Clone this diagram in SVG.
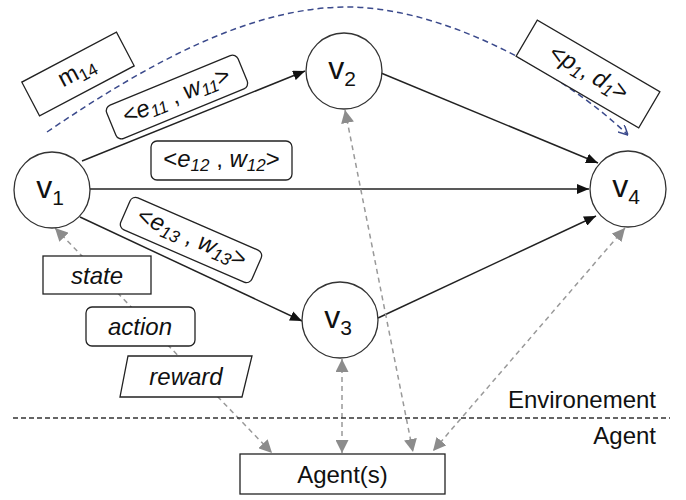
<svg xmlns="http://www.w3.org/2000/svg" width="686" height="500" viewBox="0 0 686 500">
<defs>
<style>
.node{fill:#fff;stroke:#333;stroke-width:1.3}
.box{fill:#fff;stroke:#222;stroke-width:1.3}
.edge{fill:none;stroke:#222;stroke-width:1.5}
.gray{fill:none;stroke:#999;stroke-width:1.5;stroke-dasharray:5,4}
.blue{fill:none;stroke:#3b4a8c;stroke-width:1.5;stroke-dasharray:6,4}
.sep{fill:none;stroke:#333;stroke-width:1.3;stroke-dasharray:5,3}
text{font-family:"Liberation Sans",Arial,sans-serif;fill:#111}
.vl{font-size:32px;text-anchor:middle}
.vs{font-size:21px}
.lb{font-size:24px;text-anchor:middle}
.it{font-style:italic}
.sub{font-size:17px}
</style>
<marker id="ab" viewBox="0 0 12 10" refX="12" refY="5" markerWidth="12" markerHeight="10" markerUnits="userSpaceOnUse" orient="auto"><path d="M0,0 L12,5 L0,10 Z" fill="#111"/></marker>
<marker id="ag" viewBox="0 0 12 12" refX="12" refY="6" markerWidth="13" markerHeight="13" markerUnits="userSpaceOnUse" orient="auto-start-reverse"><path d="M0,0 L12,6 L0,12 Z" fill="#8c8c8c"/></marker>
<marker id="abl" viewBox="0 0 10 10" refX="10" refY="5" markerWidth="10" markerHeight="10" markerUnits="userSpaceOnUse" orient="auto"><path d="M0,0 L10,5 L0,10" fill="none" stroke="#3b4a8c" stroke-width="1.5"/></marker>
</defs>
<g id="connectors">
<line class="edge" x1="82" y1="161" x2="305" y2="71" marker-end="url(#ab)"/>
<line class="edge" x1="90" y1="189" x2="589" y2="189" marker-end="url(#ab)"/>
<line class="edge" x1="80" y1="217" x2="302" y2="321" marker-end="url(#ab)"/>
<line class="edge" x1="381" y1="73" x2="598" y2="163" marker-end="url(#ab)"/>
<line class="edge" x1="378" y1="318" x2="596" y2="216" marker-end="url(#ab)"/>
<path class="blue" d="M47,132 C150,62 250,8 345,7 C440,6 560,70 628,135" marker-end="url(#abl)"/>
<line class="gray" x1="55" y1="228" x2="272" y2="453" marker-start="url(#ag)" marker-end="url(#ag)"/>
<line class="gray" x1="342" y1="359" x2="342" y2="453" marker-start="url(#ag)" marker-end="url(#ag)"/>
<line class="gray" x1="345" y1="110" x2="413" y2="452" marker-start="url(#ag)" marker-end="url(#ag)"/>
<line class="gray" x1="625" y1="228" x2="433" y2="451" marker-start="url(#ag)" marker-end="url(#ag)"/>
<line class="sep" x1="13" y1="418" x2="670" y2="418"/>
</g>
<g id="v1"><circle class="node" cx="52" cy="190" r="38"/><text class="vl" x="50" y="198">v<tspan class="vs" dy="7">1</tspan></text></g>
<g id="v2"><circle class="node" cx="344" cy="71" r="38"/><text class="vl" x="342" y="79">v<tspan class="vs" dy="7">2</tspan></text></g>
<g id="v3"><circle class="node" cx="340" cy="320" r="38"/><text class="vl" x="338" y="328">v<tspan class="vs" dy="7">3</tspan></text></g>
<g id="v4"><circle class="node" cx="628" cy="189" r="38"/><text class="vl" x="626" y="197">v<tspan class="vs" dy="7">4</tspan></text></g>
<g id="m14" transform="translate(78,74) rotate(-27.8)"><rect class="box" x="-53.5" y="-19" width="107" height="38"/><text class="lb" x="0" y="5">m<tspan class="sub" dy="4">14</tspan></text></g>
<g id="e11" transform="translate(177,97) rotate(-22.4)"><rect class="box" x="-71" y="-18" width="142" height="36" rx="6"/><text class="lb" x="0" y="6">&lt;<tspan class="it">e</tspan><tspan class="sub it" dy="4">11</tspan><tspan dy="-4"> , </tspan><tspan class="it">w</tspan><tspan class="sub it" dy="4">11</tspan><tspan dy="-4">&gt;</tspan></text></g>
<g id="e12"><rect class="box" x="151" y="141" width="141" height="39" rx="6"/><text class="lb" x="221.5" y="167">&lt;<tspan class="it">e</tspan><tspan class="sub it" dy="4">12</tspan><tspan dy="-4"> , </tspan><tspan class="it">w</tspan><tspan class="sub it" dy="4">12</tspan><tspan dy="-4">&gt;</tspan></text></g>
<g id="e13" transform="translate(191,240) rotate(23.5)"><rect class="box" x="-71.5" y="-17.5" width="143" height="35" rx="6"/><text class="lb" x="0" y="5">&lt;<tspan class="it">e</tspan><tspan class="sub it" dy="4">13</tspan><tspan dy="-4"> , </tspan><tspan class="it">w</tspan><tspan class="sub it" dy="4">13</tspan><tspan dy="-4">&gt;</tspan></text></g>
<g id="p1d1" transform="translate(588,74) rotate(30.3)"><rect class="box" x="-71" y="-21" width="142" height="42"/><text class="lb" x="0" y="6">&lt;<tspan class="it">p</tspan><tspan class="sub it" dy="4">1</tspan><tspan dy="-4">, </tspan><tspan class="it">d</tspan><tspan class="sub it" dy="4">1</tspan><tspan dy="-4">&gt;</tspan></text></g>
<g id="state"><rect class="box" x="43" y="256" width="108" height="38"/><text class="lb it" x="97" y="284">state</text></g>
<g id="action"><rect class="box" x="86" y="307" width="109" height="39" rx="6"/><text class="lb it" x="140" y="335">action</text></g>
<g id="reward"><path class="box" d="M128,356 L252,356 L242,397 L120,397 Z"/><text class="lb it" x="186" y="385">reward</text></g>
<g id="agent"><rect class="box" x="240" y="454" width="205" height="40"/><text class="lb" x="342.5" y="483">Agent(s)</text></g>
<g id="zones"><text x="656" y="408" font-size="24" text-anchor="end">Environement</text><text x="656" y="444" font-size="24" text-anchor="end">Agent</text></g>
</svg>
